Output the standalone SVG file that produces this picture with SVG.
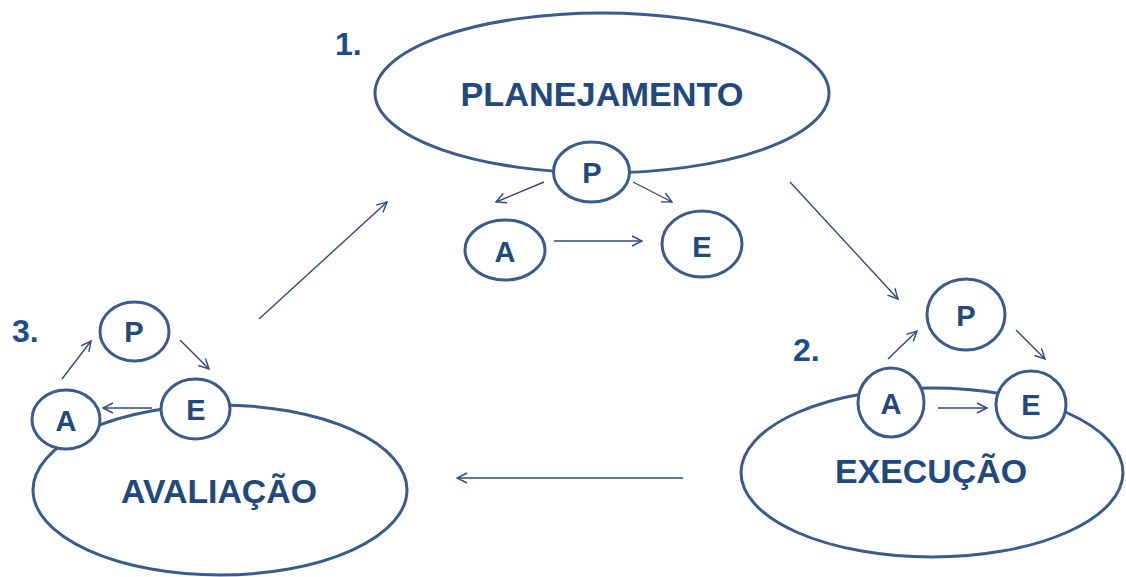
<svg xmlns="http://www.w3.org/2000/svg" width="1126" height="577" viewBox="0 0 1126 577">
<style>
.big{fill:#fff;stroke:#3A5B8C;stroke-width:3}
.sm{fill:#fff;stroke:#3A5B8C;stroke-width:3}
.lbl{font-family:"Liberation Sans",Arial,sans-serif;font-weight:bold;fill:#21497D;text-anchor:middle}
.bigt{font-size:33px}
.smt{font-size:29px}
.num{font-family:"Liberation Sans",Arial,sans-serif;font-weight:bold;fill:#1C4C8A;font-size:32px}
.c{stroke:#2E4A7E;stroke-width:1.4;fill:none;marker-end:url(#ah)}
</style>
<defs>
<marker id="ah" viewBox="0 0 12 12" refX="11" refY="6" markerWidth="12" markerHeight="12" markerUnits="userSpaceOnUse" orient="auto">
<path d="M1,1 L11,6 L1,11" fill="none" stroke="#2E4A7E" stroke-width="1.4"/>
</marker>
</defs>
<g id="planejamento">
<ellipse class="big" cx="602" cy="93" rx="227" ry="80"/>
<text class="lbl bigt" x="602" y="106" textLength="283" lengthAdjust="spacingAndGlyphs">PLANEJAMENTO</text>
</g>
<g id="n1-P"><ellipse class="sm" cx="591.5" cy="172" rx="38" ry="30"/><text class="lbl smt" x="592" y="183">P</text></g>
<g id="n1-A"><ellipse class="sm" cx="505" cy="250" rx="40" ry="30"/><text class="lbl smt" x="505" y="262">A</text></g>
<g id="n1-E"><ellipse class="sm" cx="702" cy="244" rx="40" ry="33"/><text class="lbl smt" x="702" y="257">E</text></g>
<text id="num1" class="num" x="335" y="55">1.</text>
<g id="avaliacao">
<ellipse class="big" cx="220" cy="490" rx="187" ry="85"/>
<text class="lbl bigt" x="219" y="503" textLength="196" lengthAdjust="spacingAndGlyphs">AVALIAÇÃO</text>
</g>
<g id="n3-P"><ellipse class="sm" cx="134.5" cy="331.5" rx="34.5" ry="29.5"/><text class="lbl smt" x="134" y="342">P</text></g>
<g id="n3-E"><ellipse class="sm" cx="195.5" cy="409" rx="34.5" ry="30"/><text class="lbl smt" x="196" y="420">E</text></g>
<g id="n3-A"><ellipse class="sm" cx="66" cy="419.5" rx="34" ry="29.5"/><text class="lbl smt" x="66" y="431">A</text></g>
<text id="num3" class="num" x="12" y="342">3.</text>
<g id="execucao">
<ellipse class="big" cx="932" cy="472.5" rx="191" ry="84.5"/>
<text class="lbl bigt" x="931" y="483" textLength="192" lengthAdjust="spacingAndGlyphs">EXECUÇÃO</text>
</g>
<g id="n2-P"><ellipse class="sm" cx="966" cy="314.5" rx="39" ry="35.5"/><text class="lbl smt" x="966" y="326">P</text></g>
<g id="n2-A"><ellipse class="sm" cx="891" cy="402.5" rx="33" ry="34.5"/><text class="lbl smt" x="891" y="414">A</text></g>
<g id="n2-E"><ellipse class="sm" cx="1031" cy="404.5" rx="35" ry="33.5"/><text class="lbl smt" x="1031" y="415">E</text></g>
<text id="num2" class="num" x="793" y="361">2.</text>
<g id="connectors">
<line class="c" x1="259" y1="319" x2="387" y2="202"/>
<line class="c" x1="790" y1="182" x2="898" y2="299"/>
<line class="c" x1="683" y1="478" x2="457" y2="478"/>
<line class="c" x1="544" y1="182" x2="496" y2="202"/>
<line class="c" x1="633" y1="182" x2="672" y2="202"/>
<line class="c" x1="554" y1="241" x2="642" y2="241"/>
<line class="c" x1="62" y1="379" x2="91" y2="341"/>
<line class="c" x1="180" y1="340" x2="209" y2="369"/>
<line class="c" x1="152" y1="408" x2="103" y2="408"/>
<line class="c" x1="888" y1="359" x2="917" y2="331"/>
<line class="c" x1="1016" y1="330" x2="1045" y2="359"/>
<line class="c" x1="938" y1="408" x2="987" y2="408"/>
</g>
</svg>
